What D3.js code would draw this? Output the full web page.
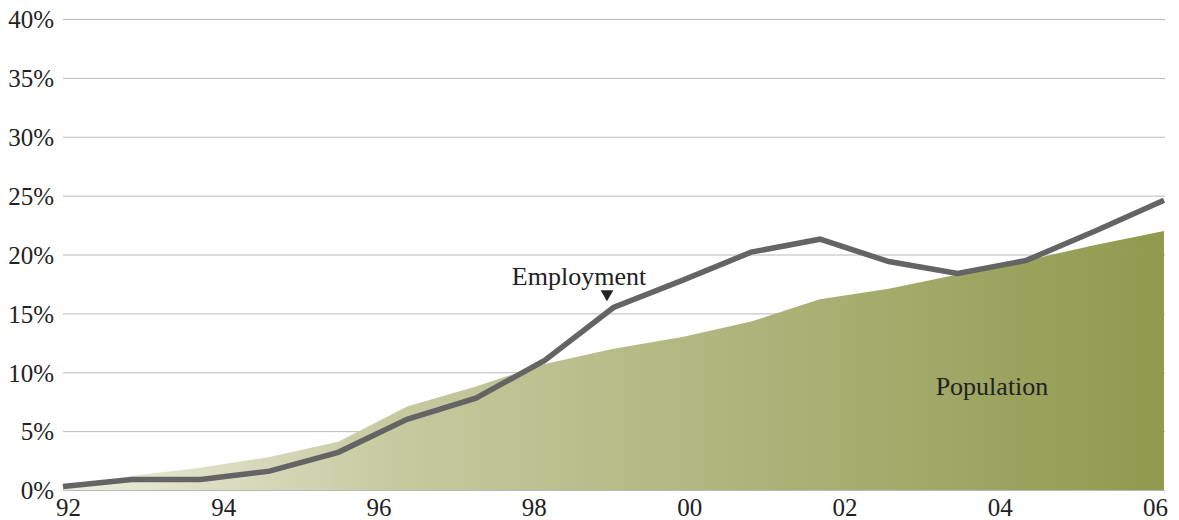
<!DOCTYPE html>
<html>
<head>
<meta charset="utf-8">
<script src="https://cdn.jsdelivr.net/npm/d3@7"></script>
<style>
  body { margin: 0; background: #fff; }
  svg text { font-family: "Liberation Serif", "DejaVu Serif", serif; fill: #222; }
</style>
</head>
<body>
<svg id="chart" width="1179" height="520"></svg>
<script>
// Chart data
const yearLabels = ["92", "94", "96", "98", "00", "02", "04", "06"];
const yTicks = [0, 5, 10, 15, 20, 25, 30, 35, 40];
// 17 evenly spaced observations from 92 to 06
const employment = [0.3, 0.9, 0.9, 1.6, 3.2, 6.0, 7.8, 11.0, 15.5, 17.8, 20.2, 21.3, 19.4, 18.4, 19.5, 22.0, 24.6];
const population = [0.2, 1.2, 1.9, 2.8, 4.1, 7.1, 8.8, 10.7, 12.0, 13.0, 14.3, 16.2, 17.1, 18.3, 19.5, 20.8, 22.0];

const svg = d3.select("#chart");
const plotLeft = 63, plotRight = 1164, plotTop = 19, plotBottom = 490;

const x = d3.scaleLinear().domain([0, employment.length - 1]).range([plotLeft, plotRight]);
const y = d3.scaleLinear().domain([0, 40]).range([plotBottom, plotTop]);
const xLab = d3.scalePoint().domain(yearLabels).range([68, 1155]);

// Gradient for population area
const grad = svg.append("defs").append("linearGradient")
  .attr("id", "popGrad")
  .attr("gradientUnits", "userSpaceOnUse")
  .attr("x1", plotLeft).attr("x2", plotRight).attr("y1", 0).attr("y2", 0);
grad.append("stop").attr("offset", "0%").attr("stop-color", "#eceedd");
grad.append("stop").attr("offset", "30%").attr("stop-color", "#c6caa0");
grad.append("stop").attr("offset", "100%").attr("stop-color", "#8f9a4e");

// Gridlines + y labels
const yAxis = d3.axisLeft(y).tickValues(yTicks).tickSize(0).tickPadding(9)
  .tickFormat(d => d + "%");
const gy = svg.append("g").attr("transform", `translate(${plotLeft},0)`).call(yAxis);
gy.select(".domain").remove();
gy.selectAll("text").attr("font-size", 25).attr("dy", "0.35em").style("fill", "#222");
gy.selectAll(".tick line").attr("x2", plotRight - plotLeft + 1).attr("stroke", "#b8b8b8").attr("stroke-width", 1);

// Population area
const area = d3.area()
  .x((d, i) => x(i))
  .y0(y(0))
  .y1(d => y(d));
svg.append("path")
  .datum(population)
  .attr("d", area)
  .attr("fill", "url(#popGrad)");

// Employment line
const line = d3.line()
  .x((d, i) => x(i))
  .y(d => y(d));
svg.append("path")
  .datum(employment)
  .attr("d", line)
  .attr("fill", "none")
  .attr("stroke", "#646464")
  .attr("stroke-width", 5.5)
  .attr("stroke-linejoin", "miter");

// X axis labels
const xAxis = d3.axisBottom(xLab).tickSize(0).tickPadding(0);
const gx = svg.append("g").attr("transform", `translate(0,${plotBottom})`).call(xAxis);
gx.select(".domain").remove();
gx.selectAll("text").attr("font-size", 25).attr("dy", "1.05em").style("fill", "#222");

// Annotations
svg.append("text")
  .attr("x", 579).attr("y", 285)
  .attr("text-anchor", "middle")
  .attr("font-size", 26)
  .text("Employment");
svg.append("path")
  .attr("d", d3.symbol().type(d3.symbolTriangle).size(70)())
  .attr("transform", "translate(607,294) rotate(180)")
  .attr("fill", "#222");

svg.append("text")
  .attr("x", 992).attr("y", 395)
  .attr("text-anchor", "middle")
  .attr("font-size", 26)
  .text("Population");
</script>
</body>
</html>
